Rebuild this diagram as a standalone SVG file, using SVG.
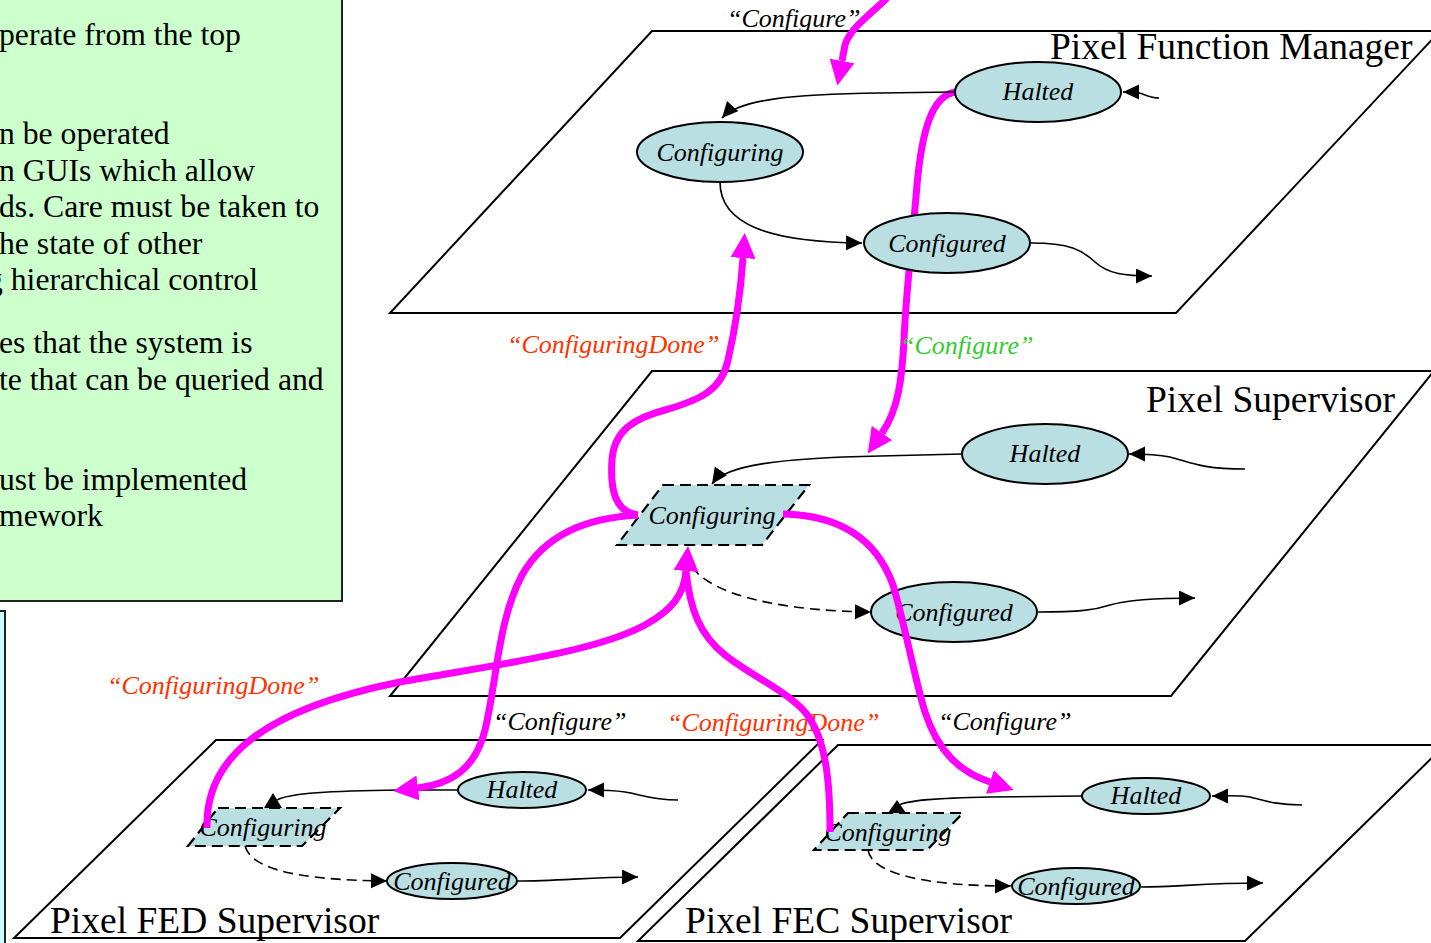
<svg xmlns="http://www.w3.org/2000/svg" width="1431" height="943" viewBox="0 0 1431 943">
<defs>
<style>
.plane{fill:#FFFFFF;stroke:#000;stroke-width:2}
.title{font-family:"Liberation Serif","Times New Roman",serif;font-size:37.5px;fill:#000}
.state{fill:#B9DFE3;stroke:#000;stroke-width:2}
.dstate{fill:#B9DFE3;stroke:#000;stroke-width:2.2;stroke-dasharray:11,6}
.st{font-family:"Liberation Serif","Times New Roman",serif;font-style:italic;font-size:26px;fill:#000;text-anchor:middle}
.lbl{font-family:"Liberation Serif","Times New Roman",serif;font-style:italic;font-size:26px}
.blk{fill:#000}
.red{fill:#FF3300}
.grn{fill:#33CC33}
.edge{fill:none;stroke:#000;stroke-width:1.6;marker-end:url(#ah)}
.dash{stroke-dasharray:10,6}
.mag{fill:none;stroke:#FF00FF;stroke-width:7}
.magh{marker-end:url(#mh)}
.note{font-family:"Liberation Serif","Times New Roman",serif;font-size:31.7px;fill:#000}
</style>
<marker id="ah" markerUnits="userSpaceOnUse" markerWidth="18" markerHeight="16" refX="16" refY="7.5" orient="auto"><path d="M0,0 L16,7.5 L0,15 z" fill="#000"/></marker>
<marker id="mh" markerUnits="userSpaceOnUse" markerWidth="26" markerHeight="26" refX="0" refY="12.5" orient="auto"><path d="M0,0 L25,12.5 L0,25 z" fill="#FF00FF"/></marker>
</defs>

<g id="note-box">
<rect x="-5" y="-5" width="347" height="606" fill="#CCFFCC" stroke="#222" stroke-width="2"/>
<text class="note" x="-1" y="45">perate from the top</text>
<text class="note" x="-1" y="144">n be operated</text>
<text class="note" x="-1" y="181">n GUIs which allow</text>
<text class="note" x="-1" y="217">ds. Care must be taken to</text>
<text class="note" x="-1" y="254">he state of other</text>
<text class="note" x="-13" y="290">g hierarchical control</text>
<text class="note" x="-1" y="353">es that the system is</text>
<text class="note" x="-1" y="390">te that can be queried and</text>
<text class="note" x="-1" y="490">ust be implemented</text>
<text class="note" x="-1" y="526">mework</text>
</g>
<g id="side-box">
<rect x="-5" y="611" width="10" height="340" fill="#CCFFFF" stroke="#222" stroke-width="2"/>
</g>

<g id="plane-fm">
<polygon class="plane" points="652,31 1440,31 1176,313 390,313"/>
<text class="title" x="1050" y="59">Pixel Function Manager</text>
</g>
<g id="plane-ps">
<polygon class="plane" points="652,371 1434,371 1171,696 390,696"/>
<text class="title" x="1146" y="412">Pixel Supervisor</text>
</g>
<g id="plane-fed">
<polygon class="plane" points="216,740 822,740 620,938 14,938"/>
<text class="title" x="50" y="933">Pixel FED Supervisor</text>
</g>
<g id="plane-fec">
<polygon class="plane" points="838,745 1445,745 1245,941 638,941"/>
<text class="title" x="685" y="933">Pixel FEC Supervisor</text>
</g>

<g id="connectors-under">
<path class="mag magh" d="M955,92 C932,96 922,130 917,185 C913,235 906,290 904,340 C902,380 898,410 882,433"/>
</g>

<g id="fm-configuring"><ellipse class="state" cx="720" cy="152" rx="83" ry="30"/><text class="st" x="720" y="161">Configuring</text></g>
<g id="fm-halted"><ellipse class="state" cx="1038" cy="92" rx="83" ry="30"/><text class="st" x="1038" y="100">Halted</text></g>
<g id="fm-configured"><ellipse class="state" cx="947" cy="243" rx="83" ry="30"/><text class="st" x="947" y="252">Configured</text></g>

<g id="ps-halted"><ellipse class="state" cx="1045" cy="454" rx="83" ry="30"/><text class="st" x="1045" y="462">Halted</text></g>
<g id="ps-configured"><ellipse class="state" cx="954" cy="612" rx="83" ry="30"/><text class="st" x="954" y="621">Configured</text></g>
<g id="ps-configuring"><polygon class="dstate" points="663,485 809,485 762,545 617,545"/><text class="st" x="712" y="524">Configuring</text></g>

<g id="fed-halted"><ellipse class="state" cx="522" cy="790" rx="64" ry="18"/><text class="st" x="522" y="798">Halted</text></g>
<g id="fed-configured"><ellipse class="state" cx="452" cy="881" rx="65" ry="18"/><text class="st" x="452" y="890">Configured</text></g>
<g id="fed-configuring"><polygon class="dstate" points="218,808 340,808 302,846 188,846"/><text class="st" x="263" y="836">Configuring</text></g>

<g id="fec-halted"><ellipse class="state" cx="1146" cy="796" rx="64" ry="18"/><text class="st" x="1146" y="804">Halted</text></g>
<g id="fec-configured"><ellipse class="state" cx="1076" cy="886" rx="64" ry="18"/><text class="st" x="1076" y="895">Configured</text></g>
<g id="fec-configuring"><polygon class="dstate" points="848,813 963,813 927,850 814,850"/><text class="st" x="888" y="841">Configuring</text></g>

<g id="labels">
<text class="lbl blk" x="727" y="27">“Configure”</text>
<text class="lbl red" x="507" y="353">“ConfiguringDone”</text>
<text class="lbl grn" x="900" y="354">“Configure”</text>
<text class="lbl red" x="107" y="694">“ConfiguringDone”</text>
<text class="lbl blk" x="493" y="730">“Configure”</text>
<text class="lbl red" x="667" y="731">“ConfiguringDone”</text>
<text class="lbl blk" x="938" y="730">“Configure”</text>
</g>

<g id="connectors">
<path class="edge" d="M955,92 L880,93 C790,94 738,100 722,118"/>
<path class="edge" d="M720,182 C720,225 770,242 862,243"/>
<path class="edge" d="M1159,98 C1148,98 1142,92 1134,92 L1123,92"/>
<path class="edge" d="M1031,243 C1070,243 1082,250 1095,262 C1108,274 1125,276 1152,276"/>

<path class="edge" d="M962,454 L880,456 C780,458 725,465 712,484"/>
<path class="edge dash" d="M692,567 C715,598 790,611 871,612"/>
<path class="edge" d="M1245,469 C1200,469 1190,462 1170,457 C1155,454 1145,454 1129,454"/>
<path class="edge" d="M1038,612 C1080,612 1095,610 1110,605 C1130,599 1160,598 1195,598"/>

<path fill="none" stroke="#000" stroke-width="1.6" d="M458,790 L400,790 C330,791 290,793 277,800"/>
<polygon points="264,808 282,808 273,793" fill="#000"/>
<path class="edge dash" d="M245,846 C252,870 300,880 387,881"/>
<path class="edge" d="M678,800 C650,800 640,794 625,792 C612,790 600,790 588,790"/>
<path class="edge" d="M517,881 C560,881 590,877 638,877"/>

<path fill="none" stroke="#000" stroke-width="1.6" d="M1082,796 L990,797 C940,798 905,800 898,806"/>
<polygon points="888,813 906,813 897,800" fill="#000"/>
<path class="edge dash" d="M868,850 C872,875 930,886 1011,886"/>
<path class="edge" d="M1302,805 C1275,805 1262,800 1250,797 C1238,795 1225,796 1212,796"/>
<path class="edge" d="M1141,887 C1180,887 1200,883 1263,883"/>

<path class="mag magh" d="M887,-2 C870,15 850,28 845,45 L842,61"/>
<path class="mag magh" d="M638,515 C615,512 610,490 612,460 C614,430 635,418 665,410 C700,400 722,390 728,360 C735,330 740,300 743,258"/>
<path class="mag magh" d="M638,515 C585,518 545,535 522,575 C498,620 497,680 485,730 C475,770 450,784 418,788"/>
<path class="mag magh" d="M207,828 C205,760 260,710 400,682 C500,664 595,652 645,625 C672,610 684,595 686,571"/>
<path class="mag" d="M830,832 C830,790 828,740 805,712 C785,690 750,675 725,655 C700,635 690,610 686,571"/>
<path class="mag magh" d="M783,514 C835,515 875,535 893,585 C905,625 915,680 925,712 C938,752 960,772 990,782"/>
</g>
</svg>
